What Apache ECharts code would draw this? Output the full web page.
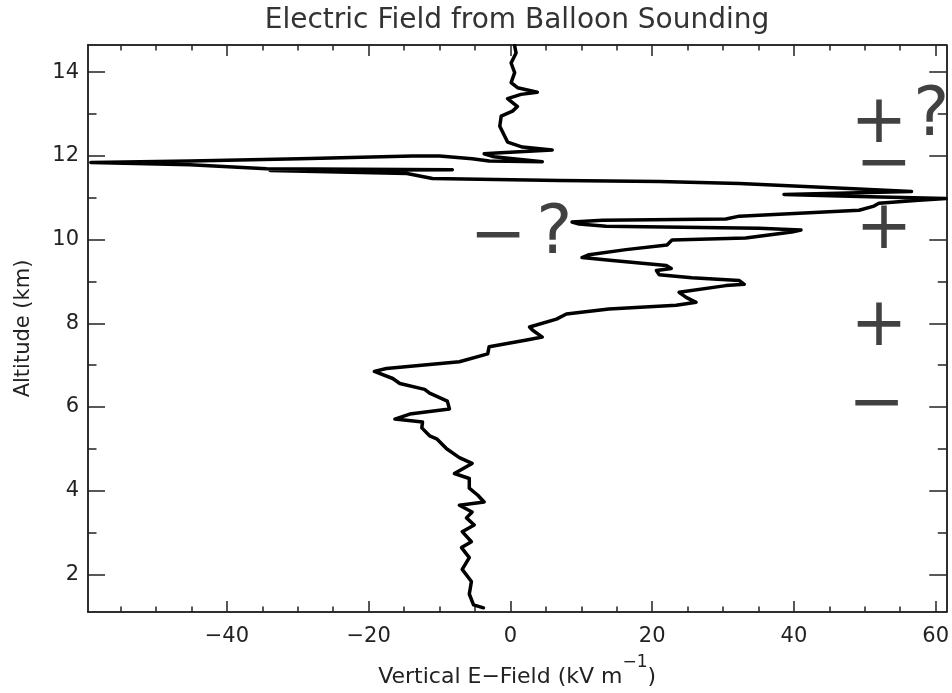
<!DOCTYPE html>
<html>
<head>
<meta charset="utf-8">
<script src="https://cdn.jsdelivr.net/npm/echarts@6/dist/echarts.min.js"></script>
<style>
html,body{margin:0;padding:0;background:#fff;}
#chart{width:952px;height:693px;}
</style>
</head>
<body>
<div id="chart"></div>
<script>
// Vertical E-field (kV/m) vs altitude (km), in sounding order (bottom to top)
const fieldKV = [
 -3.8,-5.2,-5.8,-5.5,-6.8,-5.8,-6.9,-5.5,-6.8,-5.1,-6.2,-5.4,-7.2,-3.7,-4.6,-5.8,-5.8,-7.9,-5.4,-7.2,
 -9.0,-10.4,-11.4,-12.5,-12.4,-16.3,-14.2,-8.6,-8.9,-11.4,-12.1,-15.6,-16.6,-19.2,-17.5,-7.2,-3.2,-3.0,2.3,4.5,
 3.1,2.7,6.5,7.9,13.9,23.4,26.2,24.8,23.8,30.4,33.0,32.3,25.6,21.0,20.6,22.7,22.0,14.4,10.1,11.1,
 16.3,22.1,22.8,33.2,39.7,41.0,35.1,13.5,9.7,8.7,13.0,30.4,32.3,49.2,51.3,52.0,57.6,61.5,49.2,38.6,
 56.6,47.7,32.3,21.0,6.9,-11.0,-14.6,-33.9,-8.2,-34.4,-45.2,-59.2,-45.2,-29.7,-13.8,-10.0,-5.4,-3.0,4.5,-2.3,
 -3.7,-2.0,5.9,1.7,-0.4,-0.8,-1.5,-1.3,0.3,1.0,-0.4,1.5,3.8,1.0,0.1,0.6,0.1,0.8,0.6
];
const altitudeKm = [
 1.20,1.27,1.53,1.83,2.12,2.40,2.64,2.78,3.02,3.18,3.35,3.49,3.65,3.73,3.89,4.06,4.29,4.41,4.65,4.79,
 5.00,5.24,5.31,5.50,5.64,5.71,5.83,5.95,6.14,6.33,6.42,6.56,6.68,6.85,6.92,7.08,7.27,7.44,7.60,7.67,
 7.84,7.91,8.10,8.22,8.34,8.43,8.50,8.62,8.74,8.90,8.93,9.02,9.09,9.16,9.26,9.31,9.38,9.50,9.57,9.64,
 9.76,9.87,9.99,10.04,10.18,10.23,10.27,10.32,10.37,10.42,10.46,10.49,10.56,10.70,10.80,10.87,10.94,10.98,11.03,11.08,
 11.15,11.22,11.34,11.39,11.41,11.46,11.58,11.65,11.67,11.69,11.79,11.84,11.88,11.93,12.00,12.00,11.93,11.88,11.86,11.98,
 12.05,12.07,12.14,12.21,12.33,12.47,12.71,12.95,13.07,13.18,13.37,13.47,13.52,13.63,13.75,13.99,14.22,14.46,14.63
];
// Axis ticks
const xMajorTicks = [-40, -20, 0, 20, 40, 60];
const xMinorTicks = [-55,-50,-45,-35,-30,-25,-15,-10,-5,5,10,15,25,30,35,45,50,55];
const yMajorTicks = [2, 4, 6, 8, 10, 12, 14];
const yMinorTicks = [3, 5, 7, 9, 11, 13];
// Charge-layer annotations
const annoText = ['+', '?', '\u2212', '+', '+', '\u2212', '\u2212', '?'];
const annoField = [52.0, 59.4, 52.7, 52.7, 52.0, 51.7, -1.7, 6.2];
const annoAlt = [12.76, 12.92, 11.74, 10.23, 7.91, 6.02, 10.04, 10.11];

const X_MIN = -59.6, X_MAX = 61.5, Y_MIN = 1.1, Y_MAX = 14.65;
const FONT = "'DejaVu Sans', sans-serif";
const INK = '#222';
const fmt = v => (v < 0 ? '\u2212' + Math.abs(v) : String(v));

function xAx(pos, ticks, len, withLabel) {
  const a = {
    type: 'value', position: pos, min: X_MIN, max: X_MAX,
    axisLine: {show: true, onZero: false, lineStyle: {color: INK, width: 1.5}},
    axisTick: {show: true, inside: true, length: len, customValues: ticks, lineStyle: {color: INK, width: 1.5}},
    axisLabel: withLabel ? {show: true, customValues: ticks, formatter: fmt, fontFamily: FONT, fontSize: 21, color: INK, margin: 14}
                         : {show: false},
    splitLine: {show: false}
  };
  if (withLabel) {
    a.name = '{n|Vertical E\u2212Field (kV m}{s|\u22121}{n|)}';
    a.nameLocation = 'middle';
    a.nameGap = 42;
    a.nameTextStyle = {
      fontFamily: FONT, color: INK,
      rich: {
        n: {fontFamily: FONT, fontSize: 22, color: INK, lineHeight: 34, verticalAlign: 'bottom'},
        s: {fontFamily: FONT, fontSize: 17, color: INK, lineHeight: 34, verticalAlign: 'top'}
      }
    };
  }
  return a;
}
function yAx(pos, ticks, len, withLabel) {
  const a = {
    type: 'value', position: pos, min: Y_MIN, max: Y_MAX,
    axisLine: {show: true, onZero: false, lineStyle: {color: INK, width: 1.5}},
    axisTick: {show: true, inside: true, length: len, customValues: ticks, lineStyle: {color: INK, width: 1.5}},
    axisLabel: withLabel ? {show: true, customValues: ticks, formatter: fmt, fontFamily: FONT, fontSize: 21, color: INK, margin: 9}
                         : {show: false},
    splitLine: {show: false}
  };
  if (withLabel) {
    a.name = 'Altitude (km)';
    a.nameLocation = 'middle';
    a.nameGap = 54;
    a.nameTextStyle = {fontFamily: FONT, fontSize: 21, color: INK};
  }
  return a;
}

const chart = echarts.init(document.getElementById('chart'), null, {renderer: 'canvas'});
chart.setOption({
  backgroundColor: '#ffffff',
  animation: false,
  title: {
    text: 'Electric Field from Balloon Sounding',
    left: 512, textAlign: 'center', top: 2,
    textStyle: {fontFamily: FONT, fontSize: 28, fontWeight: 'normal', color: '#333'}
  },
  grid: {left: 88, right: 4, top: 45, bottom: 75, containLabel: false},
  xAxis: [
    xAx('bottom', xMajorTicks, 11, true),
    xAx('bottom', xMinorTicks, 5.5, false),
    xAx('top', xMajorTicks, 11, false),
    xAx('top', xMinorTicks, 5.5, false)
  ],
  yAxis: [
    yAx('left', yMajorTicks, 17, true),
    yAx('left', yMinorTicks, 8.5, false),
    yAx('right', yMajorTicks, 17, false),
    yAx('right', yMinorTicks, 8.5, false)
  ],
  series: [
    {
      type: 'line', xAxisIndex: 0, yAxisIndex: 0,
      data: fieldKV.map((v, i) => [v, altitudeKm[i]]),
      showSymbol: false, symbol: 'none', smooth: false, clip: true,
      lineStyle: {color: '#000', width: 3.5, join: 'round', cap: 'round'}
    },
    {
      type: 'scatter', xAxisIndex: 0, yAxisIndex: 0,
      data: annoField.map((v, i) => [v, annoAlt[i], annoText[i]]),
      symbol: 'circle', symbolSize: 1, itemStyle: {color: 'rgba(0,0,0,0)'},
      clip: false, silent: true,
      label: {
        show: true, position: 'inside',
        formatter: p => p.data[2],
        fontFamily: FONT, fontSize: 68, color: '#111'
      }
    }
  ]
});
</script>
</body>
</html>
